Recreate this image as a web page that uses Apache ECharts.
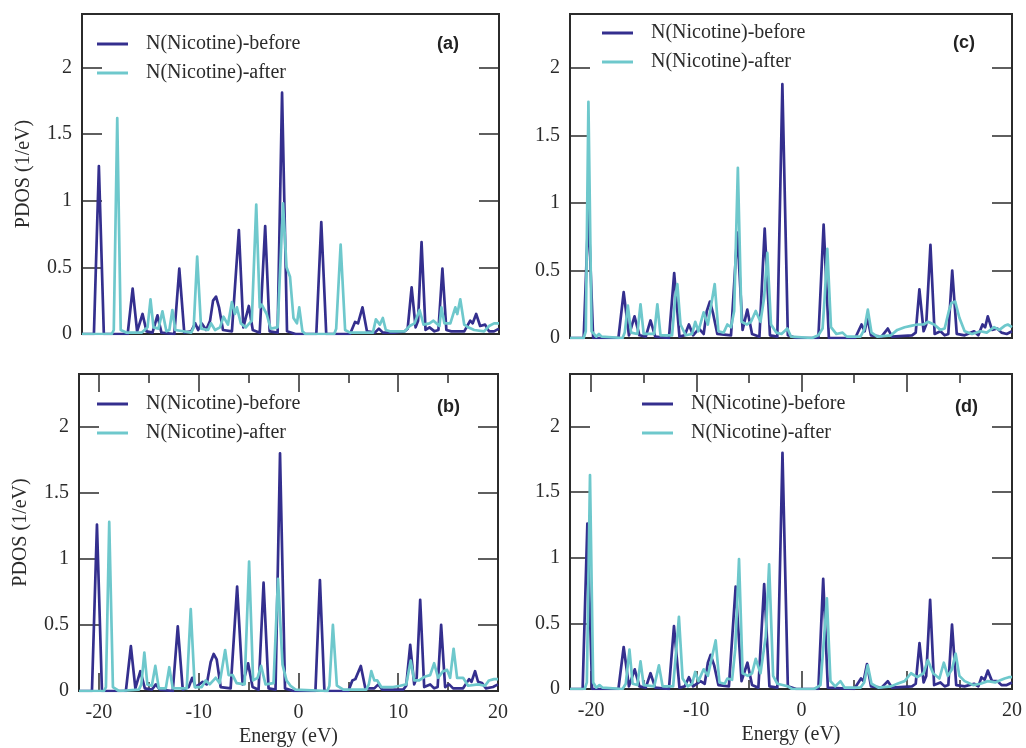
<!DOCTYPE html>
<html>
<head>
<meta charset="utf-8">
<title>PDOS N(Nicotine)</title>
<script src="https://cdn.jsdelivr.net/npm/echarts@6.0.0/dist/echarts.min.js"></script>
<style>
  html, body { margin: 0; padding: 0; background: #fff; }
  #chart { width: 1026px; height: 748px; }
</style>
</head>
<body>
<div id="chart"></div>
<script>
// 读图得到的数据 [能量 eV, PDOS]
var navyA = [[-22,0],[-20.8,0],[-20.3,1.26],[-19.8,0],[-17.4,0],[-16.9,0.34],[-16.45,0.02],[-15.9,0.15],[-15.5,0.02],[-14.9,0.01],[-14.4,0.14],[-14.0,0.01],
  [-12.7,0],[-12.2,0.49],[-11.7,0.01],[-11.0,0.02],[-10.6,0.08],[-10.3,0.03],[-9.95,0.08],[-9.5,0.03],[-9.1,0.1],[-8.8,0.25],[-8.5,0.28],[-8.2,0.2],[-7.8,0.03],
  [-6.9,0.02],[-6.2,0.78],[-5.75,0.05],[-5.2,0.21],[-4.8,0.03],[-4.1,0.01],[-3.55,0.81],[-3.1,0.02],[-2.3,0.01],[-1.85,1.81],[-1.35,0.02],[-0.5,0],
  [1.6,0],[2.1,0.84],[2.6,0],[5.0,0],[5.5,0.09],[5.8,0.08],[6.25,0.2],[6.7,0.02],[7.5,0.01],[7.9,0.04],[8.3,0.01],[9.5,0.01],[10.5,0.02],
  [10.8,0.04],[11.2,0.35],[11.6,0.05],[11.85,0.1],[12.2,0.69],[12.6,0.03],[13.0,0.05],[13.5,0.02],[13.9,0.03],[14.3,0.49],[14.7,0.03],[15.2,0.02],
  [16.5,0.02],[17.1,0.1],[17.35,0.08],[17.7,0.15],[18.1,0.06],[18.6,0.07],[19.0,0.02],[19.5,0.02],[20,0.04]];
var cyanA = [[-22,0],[-19.0,0],[-18.8,0.03],[-18.45,1.62],[-18.1,0.03],[-17.5,0.01],[-16.0,0.01],[-15.4,0.05],[-15.1,0.26],[-14.8,0.05],[-14.3,0.04],[-13.9,0.17],
  [-13.5,0.02],[-13.2,0.03],[-12.9,0.18],[-12.6,0.03],[-11.0,0.01],[-10.75,0.05],[-10.4,0.58],[-10.0,0.04],[-9.3,0.03],[-9.0,0.08],[-8.6,0.03],[-8.1,0.05],
  [-7.75,0.13],[-7.3,0.07],[-6.9,0.24],[-6.6,0.15],[-6.4,0.2],[-6.0,0.08],[-5.5,0.05],[-4.9,0.1],[-4.45,0.97],[-4.1,0.2],[-3.9,0.22],[-3.4,0.15],[-3.0,0.04],
  [-2.3,0.05],[-1.75,0.98],[-1.4,0.5],[-1.05,0.43],[-0.7,0.12],[-0.35,0.08],[-0.12,0.2],[0.2,0.02],[0.5,0],[3.4,0],[3.6,0.04],[4.05,0.67],[4.5,0.03],
  [5.0,0.01],[7.3,0.01],[7.6,0.11],[7.8,0.12],[8.0,0.07],[8.3,0.12],[8.6,0.03],[9.0,0.02],[10.0,0.02],[10.5,0.02],[11.0,0.06],[11.5,0.08],[12.0,0.18],
  [12.4,0.07],[13.0,0.08],[13.4,0.1],[14.0,0.06],[14.2,0.2],[14.5,0.08],[15.1,0.08],[15.6,0.2],[15.8,0.15],[16.1,0.26],[16.5,0.07],[16.9,0.05],[17.5,0.03],
  [18.5,0.02],[19.0,0.06],[19.5,0.08],[20,0.08]];

var navyB = [[-22,0],[-20.7,0],[-20.2,1.26],[-19.7,0],[-17.3,0],[-16.8,0.34],[-16.35,0.02],[-15.85,0.15],[-15.4,0.02],[-14.7,0.01],[-14.3,0.05],[-13.9,0.01],
  [-12.6,0],[-12.1,0.49],[-11.6,0.01],[-11.0,0.03],[-10.65,0.1],[-10.3,0.03],[-9.6,0.07],[-9.2,0.05],[-8.8,0.22],[-8.5,0.28],[-8.2,0.24],[-7.8,0.03],
  [-6.8,0.02],[-6.15,0.79],[-5.6,0.05],[-5.05,0.21],[-4.6,0.03],[-4.0,0.01],[-3.5,0.82],[-3.0,0.02],[-2.3,0.01],[-1.85,1.8],[-1.35,0.02],[-0.5,0],
  [1.7,0],[2.15,0.84],[2.6,0],[5.0,0],[5.4,0.08],[5.7,0.09],[6.25,0.19],[6.7,0.02],[7.6,0.02],[8.0,0.05],[8.4,0.01],[10.5,0.01],[10.8,0.04],[11.2,0.35],
  [11.6,0.05],[11.85,0.1],[12.2,0.69],[12.6,0.03],[13.2,0.05],[13.6,0.02],[13.95,0.03],[14.3,0.5],[14.7,0.03],[15.1,0.05],[15.5,0.02],[16.5,0.02],
  [17.1,0.09],[17.35,0.07],[17.7,0.15],[18.0,0.07],[18.4,0.06],[18.8,0.02],[19.5,0.03],[20,0.05]];
var cyanB = [[-22,0],[-19.5,0],[-19.3,0.03],[-18.97,1.28],[-18.6,0.03],[-18.0,0],[-16.0,0.01],[-15.75,0.05],[-15.45,0.29],[-15.15,0.05],[-14.7,0.04],
  [-14.35,0.19],[-14.0,0.02],[-13.3,0.02],[-12.95,0.18],[-12.6,0.02],[-11.2,0.02],[-10.8,0.62],[-10.4,0.03],[-9.7,0.03],[-9.3,0.08],[-8.9,0.05],[-8.3,0.1],
  [-7.9,0.06],[-7.35,0.31],[-7.0,0.12],[-6.6,0.12],[-6.2,0.06],[-5.4,0.05],[-4.95,0.98],[-4.55,0.08],[-4.1,0.1],[-3.75,0.19],[-3.3,0.05],[-2.5,0.06],
  [-2.05,0.85],[-1.6,0.2],[-1.2,0.08],[-0.8,0.04],[-0.3,0.01],[2.9,0],[3.1,0.04],[3.45,0.5],[3.85,0.04],[4.5,0.01],[6.8,0.01],[7.05,0.05],[7.3,0.15],
  [7.6,0.08],[7.9,0.08],[8.3,0.03],[9.5,0.03],[10.2,0.04],[10.8,0.05],[11.25,0.23],[11.6,0.08],[12.1,0.08],[12.7,0.11],[13.2,0.12],[13.6,0.21],[14.0,0.1],
  [14.5,0.15],[14.9,0.16],[15.2,0.1],[15.55,0.32],[15.9,0.1],[16.5,0.1],[17.0,0.04],[18.0,0.05],[18.7,0.04],[19.1,0.08],[19.6,0.09],[20,0.09]];

var navyC = [[-22,0],[-20.7,0],[-20.25,0.95],[-19.8,0],[-17.4,0],[-16.9,0.34],[-16.4,0.02],[-15.87,0.16],[-15.4,0.02],[-14.8,0.01],[-14.35,0.13],[-13.9,0.01],
  [-12.6,0],[-12.1,0.48],[-11.6,0.01],[-11.1,0.02],[-10.7,0.1],[-10.3,0.02],[-9.75,0.07],[-9.3,0.03],[-9.0,0.2],[-8.7,0.27],[-8.4,0.18],[-8.0,0.03],
  [-6.7,0.02],[-6.1,0.78],[-5.6,0.06],[-5.15,0.21],[-4.7,0.03],[-4.0,0.01],[-3.5,0.81],[-3.0,0.02],[-2.3,0.01],[-1.82,1.88],[-1.3,0.02],[-0.5,0],
  [1.6,0],[2.1,0.84],[2.6,0],[5.1,0],[5.7,0.1],[6.0,0.05],[6.25,0.15],[6.6,0.02],[7.6,0.01],[8.2,0.07],[8.6,0.01],[10.5,0.02],[10.85,0.04],[11.2,0.36],
  [11.6,0.05],[11.85,0.1],[12.25,0.69],[12.65,0.03],[13.2,0.05],[13.6,0.02],[13.95,0.03],[14.32,0.5],[14.75,0.03],[15.5,0.02],[16.4,0.05],[16.8,0.02],
  [17.2,0.1],[17.45,0.08],[17.7,0.16],[18.1,0.06],[18.6,0.07],[19.0,0.04],[19.5,0.03],[20,0.05]];
var cyanC = [[-22,0],[-20.7,0],[-20.5,0.05],[-20.25,1.75],[-19.95,0.05],[-19.5,0.01],[-19.25,0.03],[-19.0,0.01],[-17.0,0],[-16.8,0.04],[-16.5,0.24],
  [-16.2,0.04],[-15.6,0.03],[-15.3,0.25],[-15.0,0.03],[-14.0,0.03],[-13.7,0.25],[-13.4,0.02],[-12.3,0.02],[-12.0,0.3],[-11.8,0.4],[-11.5,0.1],[-11.0,0.02],
  [-10.4,0.03],[-10.1,0.12],[-9.8,0.05],[-9.3,0.19],[-8.9,0.1],[-8.25,0.4],[-7.9,0.05],[-7.4,0.04],[-7.05,0.1],[-6.7,0.08],[-6.4,0.2],[-6.05,1.26],
  [-5.7,0.12],[-5.2,0.1],[-4.8,0.12],[-4.35,0.2],[-3.9,0.12],[-3.55,0.3],[-3.25,0.63],[-2.9,0.1],[-2.4,0.04],[-1.9,0.03],[-1.35,0.07],[-1.0,0.01],
  [1.0,0],[1.6,0.02],[2.0,0.07],[2.2,0.3],[2.45,0.66],[2.8,0.08],[3.3,0.03],[3.9,0.04],[4.3,0.01],[5.6,0.01],[5.95,0.06],[6.3,0.21],[6.65,0.04],[7.2,0.01],
  [8.5,0.02],[9.1,0.06],[9.8,0.08],[10.4,0.09],[11.0,0.1],[11.6,0.1],[12.0,0.12],[12.6,0.1],[13.2,0.06],[13.6,0.07],[14.0,0.2],[14.25,0.26],[14.6,0.27],
  [15.0,0.15],[15.5,0.05],[16.2,0.03],[17.0,0.05],[17.6,0.04],[18.3,0.08],[18.8,0.06],[19.3,0.09],[19.6,0.1],[20,0.08]];

var navyD = [[-22,0],[-20.8,0],[-20.35,1.26],[-19.9,0],[-17.4,0],[-16.9,0.32],[-16.4,0.02],[-15.85,0.15],[-15.4,0.02],[-14.8,0.01],[-14.35,0.12],[-13.9,0.01],
  [-12.6,0],[-12.12,0.48],[-11.6,0.01],[-11.1,0.02],[-10.7,0.09],[-10.3,0.02],[-9.6,0.06],[-9.2,0.04],[-8.9,0.2],[-8.64,0.26],[-8.3,0.18],[-7.9,0.03],
  [-6.9,0.02],[-6.26,0.78],[-5.7,0.06],[-5.14,0.2],[-4.7,0.03],[-4.1,0.01],[-3.55,0.8],[-3.05,0.02],[-2.3,0.01],[-1.81,1.8],[-1.3,0.02],[-0.5,0],
  [1.6,0],[2.06,0.84],[2.5,0.01],[5.0,0],[5.65,0.08],[5.9,0.06],[6.22,0.19],[6.6,0.02],[7.6,0.01],[8.2,0.06],[8.6,0.01],[10.5,0.02],[10.85,0.04],
  [11.21,0.35],[11.6,0.05],[11.85,0.1],[12.22,0.68],[12.6,0.03],[13.2,0.05],[13.6,0.02],[13.95,0.03],[14.3,0.49],[14.7,0.03],[15.5,0.02],[16.4,0.04],
  [16.8,0.02],[17.1,0.09],[17.4,0.07],[17.7,0.14],[18.1,0.06],[18.6,0.06],[19.0,0.03],[19.5,0.03],[20,0.05]];
var cyanD = [[-22,0],[-20.6,0],[-20.4,0.05],[-20.1,1.63],[-19.8,0.05],[-19.5,0.01],[-19.2,0.03],[-18.9,0.01],[-17.0,0],[-16.7,0.04],[-16.35,0.3],
  [-16.05,0.04],[-15.6,0.03],[-15.3,0.21],[-15.0,0.03],[-14.0,0.02],[-13.55,0.18],[-13.2,0.02],[-12.2,0.02],[-11.9,0.3],[-11.65,0.55],[-11.3,0.08],
  [-10.8,0.02],[-10.4,0.04],[-10.1,0.13],[-9.8,0.06],[-9.3,0.15],[-8.9,0.1],[-8.16,0.37],[-7.8,0.05],[-7.3,0.04],[-7.05,0.08],[-6.6,0.07],[-6.3,0.3],
  [-5.94,0.99],[-5.6,0.12],[-5.1,0.1],[-4.7,0.12],[-4.35,0.23],[-3.9,0.12],[-3.4,0.4],[-3.08,0.95],[-2.7,0.1],[-2.3,0.04],[-1.8,0.03],[-1.3,0.02],[-0.9,0],
  [1.2,0],[1.8,0.03],[2.15,0.4],[2.41,0.69],[2.75,0.06],[3.2,0.02],[3.7,0.06],[4.1,0.01],[5.6,0.01],[5.95,0.05],[6.29,0.18],[6.65,0.04],[7.3,0.01],
  [8.5,0.02],[9.1,0.04],[9.8,0.06],[10.4,0.12],[11.0,0.09],[11.6,0.12],[12.0,0.22],[12.5,0.12],[13.1,0.08],[13.52,0.2],[13.9,0.1],[14.3,0.15],[14.64,0.27],
  [15.0,0.1],[15.5,0.06],[16.3,0.03],[17.0,0.04],[17.7,0.06],[18.4,0.05],[19.0,0.07],[19.3,0.08],[19.7,0.09],[20,0.09]];

// 坐标轴刻度
var energyLabels = [-20, -10, 0, 10, 20];
var energyMajor = [-20, -10, 0, 10];
var energyMinor = [-15, -5, 5, 15];
var pdosLabels = [0, 0.5, 1, 1.5, 2];
var pdosTicks = [0.5, 1, 1.5, 2];
var seriesNames = ["N(Nicotine)-before", "N(Nicotine)-after"];
var panelTags = ["(a)", "(b)", "(c)", "(d)"];

(function () {
  var myChart = echarts.init(document.getElementById("chart"));

  var serif = "'Liberation Serif', 'DejaVu Serif', serif";
  var ink = "#2b2b2b";
  var navy = "#342f8e";
  var cyan = "#6ec8cc";

  // 四个子图的位置
  var panels = [
    { left: 82, top: 14, width: 417, height: 320, xTicks: false, yName: true, legX: 97, legY: 34, tagX: 437, tagY: 35, before: navyA, after: cyanA },
    { left: 79, top: 374, width: 419, height: 317, xTicks: true, yName: true, legX: 97, legY: 394, tagX: 437, tagY: 398, before: navyB, after: cyanB },
    { left: 570, top: 14, width: 442, height: 324, xTicks: false, yName: false, legX: 602, legY: 23, tagX: 953, tagY: 34, before: navyC, after: cyanC },
    { left: 570, top: 374, width: 442, height: 315, xTicks: true, yName: false, legX: 642, legY: 394, tagX: 955, tagY: 398, before: navyD, after: cyanD }
  ];

  var grid = [], xAxis = [], yAxis = [], series = [], legend = [], title = [];

  function energyAxis(g, pos, ticks, len, labels, name) {
    return {
      type: "value", gridIndex: g, position: pos, min: -22, max: 20,
      axisLine: { show: false, onZero: false },
      splitLine: { show: false },
      axisTick: { show: !!ticks, inside: true, length: len, customValues: ticks || [], lineStyle: { color: ink, width: 1.5 } },
      axisLabel: { show: !!labels, customValues: labels || [], fontFamily: serif, fontSize: 20, color: ink, margin: 12 },
      name: name || "", nameLocation: "middle", nameGap: 36,
      nameTextStyle: { fontFamily: serif, fontSize: 20, color: ink }
    };
  }

  function pdosAxis(g, pos, withLabels, name) {
    return {
      type: "value", gridIndex: g, position: pos, min: 0, max: 2.4,
      axisLine: { show: false, onZero: false }, splitLine: { show: false },
      axisTick: { inside: true, length: 20, customValues: pdosTicks, lineStyle: { color: ink, width: 1.5 } },
      axisLabel: { show: withLabels, customValues: pdosLabels, fontFamily: serif, fontSize: 20, color: ink, margin: 10 },
      name: name || "", nameLocation: "middle", nameGap: 48,
      nameTextStyle: { fontFamily: serif, fontSize: 20, color: ink }
    };
  }

  panels.forEach(function (p, i) {
    grid.push({ left: p.left, top: p.top, width: p.width, height: p.height, show: true, borderColor: ink, borderWidth: 2, backgroundColor: "transparent" });

    var xMain = xAxis.length;
    if (p.xTicks) {
      xAxis.push(energyAxis(i, "bottom", energyMajor, 18, energyLabels, "Energy (eV)"));
      xAxis.push(energyAxis(i, "bottom", energyMinor, 9));
      xAxis.push(energyAxis(i, "top", energyMajor, 18));
      xAxis.push(energyAxis(i, "top", energyMinor, 9));
    } else {
      xAxis.push(energyAxis(i, "bottom"));
    }

    var yMain = yAxis.length;
    yAxis.push(pdosAxis(i, "left", true, p.yName ? "PDOS (1/eV)" : ""));
    yAxis.push(pdosAxis(i, "right", false));

    [p.before, p.after].forEach(function (d, k) {
      series.push({
        name: seriesNames[k], type: "line", xAxisIndex: xMain, yAxisIndex: yMain,
        data: d, symbol: "none", showSymbol: false, z: 2 + k,
        color: k ? cyan : navy,
        lineStyle: { width: 2.7, color: k ? cyan : navy, join: "round" }
      });
    });

    legend.push({
      data: seriesNames, orient: "vertical", left: p.legX, top: p.legY,
      icon: "rect", itemWidth: 31, itemHeight: 3, itemGap: 9, padding: 0,
      selectedMode: false,
      textStyle: { fontFamily: serif, fontSize: 20, color: ink, padding: [0, 0, 0, 13] }
    });

    title.push({
      text: panelTags[i], left: p.tagX, top: p.tagY, padding: 0,
      textStyle: { fontFamily: "'Liberation Sans', Arial, sans-serif", fontWeight: "bold", fontSize: 18, color: "#222" }
    });
  });

  var option = {
    animation: false,
    backgroundColor: "#fff",
    grid: grid,
    xAxis: xAxis,
    yAxis: yAxis,
    legend: legend,
    title: title,
    series: series
  };

  myChart.setOption(option);
  window.addEventListener("resize", function () {
    myChart.resize();
  });
})();
</script>
</body>
</html>
